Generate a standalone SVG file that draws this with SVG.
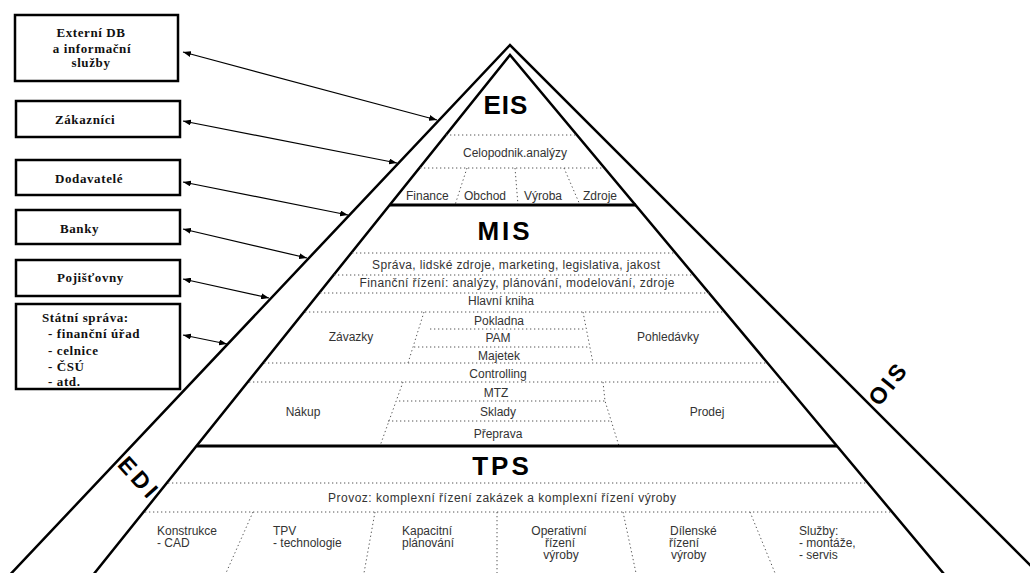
<svg xmlns="http://www.w3.org/2000/svg" width="1030" height="573" viewBox="0 0 1030 573">
  <defs>
    <style>
      .edge { fill: none; stroke: #000; stroke-width: 2.5; stroke-linejoin: miter; }
      .sep { stroke: #000; stroke-width: 2.8; }
      .dot { fill: none; stroke: #555; stroke-width: 1; stroke-dasharray: 1.3 2.7; }
      .box { fill: #fff; stroke: #000; stroke-width: 2.5; }
      .btxt { font-family: "Liberation Serif", "Times New Roman", serif; font-weight: bold; font-size: 13px; letter-spacing: 0.6px; fill: #111; }
      .big { font-family: "Liberation Sans", Arial, sans-serif; font-weight: bold; font-size: 26px; fill: #000; text-anchor: middle; }
      .side { font-family: "Liberation Sans", Arial, sans-serif; font-weight: bold; font-size: 23px; fill: #000; text-anchor: middle; }
      .t { font-family: "Liberation Sans", Arial, sans-serif; font-size: 12px; fill: #333; }
      .c { text-anchor: middle; }
      .arrow { fill: none; stroke: #000; stroke-width: 1.2; marker-start: url(#ah); marker-end: url(#ah); }
    </style>
    <marker id="ah" markerUnits="userSpaceOnUse" markerWidth="9" markerHeight="6" refX="8" refY="3" orient="auto-start-reverse">
      <path d="M0,0 L8,3 L0,6 z" fill="#000"/>
    </marker>
  </defs>

  <rect width="1030" height="573" fill="#fff"/>

  <!-- pyramid outline: outer and inner sides -->
  <g id="pyramid">
    <path class="edge" d="M5,580 L510,45 L1045,580"/>
    <path class="edge" d="M89,580 L510,55 L949,580"/>
    <text class="side" x="140" y="485" letter-spacing="4" transform="rotate(48 138 477)">EDI</text>
    <text class="side" x="889" y="393" letter-spacing="3" transform="rotate(-51 887 385)">OIS</text>
  </g>

  <!-- EIS level -->
  <g id="eis">
    <text class="big" x="506" y="114" letter-spacing="1">EIS</text>
    <line class="dot" x1="446" y1="135" x2="577" y2="135"/>
    <text class="t c" x="515" y="157">Celopodnik.analýzy</text>
    <line class="dot" x1="420" y1="168" x2="604" y2="168"/>
    <line class="dot" x1="467" y1="168" x2="455" y2="205"/>
    <line class="dot" x1="515" y1="168" x2="518" y2="205"/>
    <line class="dot" x1="564" y1="168" x2="580" y2="205"/>
    <text class="t" x="406" y="200">Finance</text>
    <text class="t" x="464" y="200">Obchod</text>
    <text class="t" x="524" y="200">Výroba</text>
    <text class="t" x="583" y="200">Zdroje</text>
    <line class="sep" x1="390" y1="205" x2="636" y2="205"/>
  </g>

  <!-- MIS level -->
  <g id="mis">
    <text class="big" x="505" y="240" letter-spacing="3">MIS</text>
    <line class="dot" x1="352" y1="253" x2="675" y2="253"/>
    <text class="t c" x="516" y="269" textLength="288" lengthAdjust="spacing">Správa, lidské zdroje, marketing, legislativa, jakost</text>
    <line class="dot" x1="334" y1="275" x2="694" y2="275"/>
    <text class="t c" x="517" y="287" textLength="315" lengthAdjust="spacing">Finanční řízení: analýzy, plánování, modelování, zdroje</text>
    <line class="dot" x1="320" y1="293" x2="709" y2="293"/>
    <text class="t c" x="501" y="305">Hlavní kniha</text>
    <line class="dot" x1="305" y1="312" x2="724" y2="312"/>

    <!-- payables / cash block / receivables -->
    <line class="dot" x1="424" y1="312" x2="408" y2="363"/>
    <line class="dot" x1="583" y1="312" x2="593" y2="363"/>
    <text class="t c" x="499" y="325">Pokladna</text>
    <line class="dot" x1="430" y1="329" x2="585" y2="329"/>
    <text class="t c" x="498" y="342">PAM</text>
    <line class="dot" x1="414" y1="347" x2="590" y2="347"/>
    <text class="t c" x="499" y="360">Majetek</text>
    <text class="t c" x="351" y="341">Závazky</text>
    <text class="t c" x="668" y="341">Pohledávky</text>
    <line class="dot" x1="264" y1="363" x2="767" y2="363"/>
    <text class="t c" x="498" y="378">Controlling</text>
    <line class="dot" x1="249" y1="382" x2="783" y2="382"/>

    <!-- purchasing / logistics block / sales -->
    <line class="dot" x1="403" y1="382" x2="380" y2="446"/>
    <polyline class="dot" points="603,382 605,401 619,446"/>
    <text class="t c" x="496" y="397">MTZ</text>
    <line class="dot" x1="399" y1="401" x2="606" y2="401"/>
    <text class="t c" x="498" y="416">Sklady</text>
    <line class="dot" x1="388" y1="421" x2="610" y2="421"/>
    <text class="t c" x="498" y="438">Přeprava</text>
    <text class="t c" x="303" y="416">Nákup</text>
    <text class="t c" x="707" y="416">Prodej</text>
    <line class="sep" x1="197" y1="446" x2="837" y2="446"/>
  </g>

  <!-- TPS level -->
  <g id="tps">
    <text class="big" x="502" y="475" letter-spacing="3">TPS</text>
    <line class="dot" x1="168" y1="483" x2="867" y2="483"/>
    <text class="t" x="328" y="502" textLength="348" lengthAdjust="spacing">Provoz: komplexní řízení zakázek a komplexní řízení  výroby</text>
    <line class="dot" x1="145" y1="512" x2="891" y2="512"/>
    <line class="dot" x1="253" y1="512" x2="226" y2="573"/>
    <line class="dot" x1="375" y1="512" x2="364" y2="573"/>
    <line class="dot" x1="497" y1="512" x2="497" y2="573"/>
    <line class="dot" x1="623" y1="512" x2="636" y2="573"/>
    <line class="dot" x1="750" y1="512" x2="775" y2="573"/>
    <text class="t" x="157" y="535">Konstrukce</text>
    <text class="t" x="157" y="547">- CAD</text>
    <text class="t" x="273" y="535">TPV</text>
    <text class="t" x="273" y="547">- technologie</text>
    <text class="t" x="402" y="535">Kapacitní</text>
    <text class="t" x="402" y="547">plánování</text>
    <text class="t c" x="559" y="535">Operativní</text>
    <text class="t c" x="560" y="547">řízení</text>
    <text class="t c" x="561" y="559">výroby</text>
    <text class="t" x="670" y="535">Dílenské</text>
    <text class="t" x="669" y="547">řízení</text>
    <text class="t" x="671" y="559">výroby</text>
    <text class="t" x="799" y="535">Služby:</text>
    <text class="t" x="799" y="547">- montáže,</text>
    <text class="t" x="799" y="559">- servis</text>
  </g>

  <!-- two-way links between partners and the pyramid -->
  <g id="connectors">
    <line class="arrow" x1="183" y1="52" x2="437" y2="120"/>
    <line class="arrow" x1="183" y1="121" x2="397" y2="163"/>
    <line class="arrow" x1="183" y1="182" x2="348" y2="215"/>
    <line class="arrow" x1="183" y1="229" x2="307" y2="258"/>
    <line class="arrow" x1="183" y1="279" x2="269" y2="298"/>
    <line class="arrow" x1="183" y1="335" x2="227" y2="344"/>
  </g>

  <!-- external partners -->
  <g id="node-externi-db">
    <rect class="box" x="15" y="15" width="163" height="66"/>
    <text class="btxt" x="91" y="37" text-anchor="middle">Externí DB</text>
    <text class="btxt" x="92" y="53" text-anchor="middle">a informační</text>
    <text class="btxt" x="91" y="67" text-anchor="middle">služby</text>
  </g>
  <g id="node-zakaznici">
    <rect class="box" x="16" y="101" width="164" height="36"/>
    <text class="btxt" x="55" y="124" letter-spacing="1.2">Zákazníci</text>
  </g>
  <g id="node-dodavatele">
    <rect class="box" x="16" y="160" width="164" height="35"/>
    <text class="btxt" x="55" y="183">Dodavatelé</text>
  </g>
  <g id="node-banky">
    <rect class="box" x="16" y="210" width="164" height="34"/>
    <text class="btxt" x="60" y="233">Banky</text>
  </g>
  <g id="node-pojistovny">
    <rect class="box" x="16" y="260" width="164" height="36"/>
    <text class="btxt" x="57" y="282" letter-spacing="1">Pojišťovny</text>
  </g>
  <g id="node-statni-sprava">
    <rect class="box" x="16" y="304" width="164" height="85"/>
    <text class="btxt" x="42" y="322">Státní správa:</text>
    <text class="btxt" x="48" y="338">- finanční úřad</text>
    <text class="btxt" x="48" y="355">- celnice</text>
    <text class="btxt" x="48" y="371">- ČSÚ</text>
    <text class="btxt" x="48" y="386">- atd.</text>
  </g>
</svg>
